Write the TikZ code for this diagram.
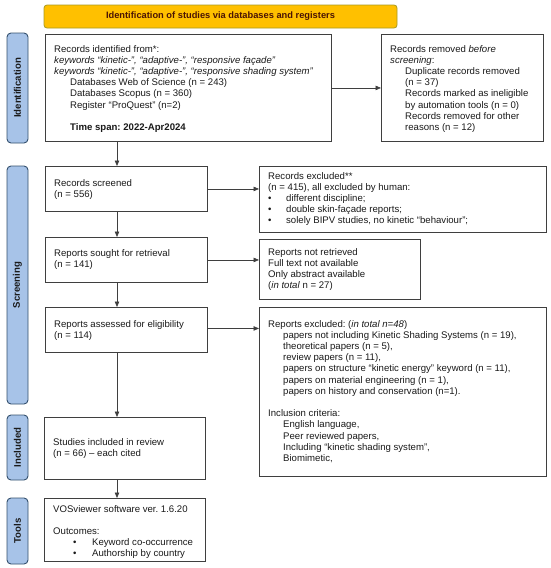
\documentclass[tikz,border=0pt]{standalone}
\usepackage{fontspec}
\setmainfont{Liberation Sans}
\usetikzlibrary{arrows.meta}
\definecolor{bordc}{HTML}{3F3F3F}
\definecolor{txtc}{HTML}{1A1A1A}
\definecolor{bannerfill}{HTML}{FFC000}
\definecolor{bannerdraw}{HTML}{A89A20}
\definecolor{bannertxt}{HTML}{4A1405}
\definecolor{sidefill}{HTML}{A7C3E8}
\definecolor{sidedraw}{HTML}{34506E}
\frenchspacing
\begin{document}
\begin{tikzpicture}[x=1pt,y=-1pt,
  box/.style={draw=bordc, line width=0.9pt, anchor=north west, inner sep=0pt},
  txt/.style={anchor=north west, inner sep=0pt, align=left, text=txtc,
    font=\fontsize{9.6}{11.2}\selectfont\frenchspacing},
  side/.style={draw=sidedraw, fill=sidefill, line width=0.9pt, rounded corners=4pt,
    rotate=90, minimum height=21pt, inner sep=0pt, text=txtc,
    font=\fontsize{9.6}{10}\selectfont\bfseries},
  arr/.style={draw=bordc, line width=0.7pt, -{Triangle[length=5.5pt,width=4.5pt]}}]
\useasboundingbox (0,0) rectangle (550,568);
\fill[white] (0,0) rectangle (550,568);

% banner
\node[draw=bannerdraw, fill=bannerfill, line width=0.8pt, rounded corners=3pt,
  minimum width=353pt, minimum height=23pt, inner sep=0pt, text=bannertxt,
  font=\fontsize{9.3}{10}\selectfont\bfseries] (ban) at (220.5,16.5)
  {Identification of studies via databases and registers};

% side labels
\node[side, minimum width=110pt] (s1) at (17.5,88) {Identification};
\node[side, minimum width=238pt] (s2) at (17.5,285) {Screening};
\node[side, minimum width=65pt] (s3) at (17.5,447.5) {Included};
\node[side, minimum width=66pt] (s4) at (17.5,531) {Tools};

% boxes
\node[box, minimum width=286pt, minimum height=107pt] (b1) at (45,34) {};
\node[box, minimum width=162pt, minimum height=107pt] (r1) at (381,34) {};
\node[box, minimum width=162pt, minimum height=45pt] (b2) at (45,166) {};
\node[box, minimum width=287pt, minimum height=66pt] (r2) at (259,166) {};
\node[box, minimum width=162pt, minimum height=45pt] (b3) at (45,237) {};
\node[box, minimum width=161pt, minimum height=60pt] (r3) at (259,239) {};
\node[box, minimum width=162pt, minimum height=45pt] (b4) at (45,307) {};
\node[box, minimum width=287pt, minimum height=169pt] (r4) at (259,307) {};
\node[box, minimum width=161pt, minimum height=62pt] (b5) at (44,417) {};
\node[box, minimum width=161pt, minimum height=63pt] (b6) at (44,498) {};

% texts
\node[txt] (t1) at (54,45) {Records identified from*:\\
\textit{keywords “kinetic-”, “adaptive-”, “responsive façade”}\\
\textit{keywords “kinetic-”, “adaptive-”, “responsive shading system”}\\
\hspace*{16pt}Databases Web of Science (n = 243)\\
\hspace*{16pt}Databases Scopus (n = 360)\\
\hspace*{16pt}Register “ProQuest” (n=2)\\[11.2pt]
\hspace*{16pt}\textbf{Time span: 2022-Apr2024}};

\node[txt] (tr1) at (390,45) {Records removed \textit{before}\\
\textit{screening}:\\
\hspace*{15pt}Duplicate records removed\\
\hspace*{15pt}(n = 37)\\
\hspace*{15pt}Records marked as ineligible\\
\hspace*{15pt}by automation tools (n = 0)\\
\hspace*{15pt}Records removed for other\\
\hspace*{15pt}reasons (n = 12)};

\node[txt] (t2) at (54,179) {Records screened\\(n = 556)};

\node[txt] (tr2) at (268,172) {Records excluded**\\
(n = 415), all excluded by human:\\
\makebox[18pt][l]{•}different discipline;\\
\makebox[18pt][l]{•}double skin-façade reports;\\
\makebox[18pt][l]{•}solely BIPV studies, no kinetic “behaviour”;};

\node[txt] (t3) at (54,249) {Reports sought for retrieval\\(n = 141)};

\node[txt] (tr3) at (268,248) {Reports not retrieved\\
Full text not available\\
Only abstract available\\
(\textit{in total} n = 27)};

\node[txt] (t4) at (54,320) {Reports assessed for eligibility\\(n = 114)};

\node[txt] (tr4) at (268,320) {Reports excluded: (\textit{in total n=48})\\
\hspace*{15pt}papers not including Kinetic Shading Systems (n = 19),\\
\hspace*{15pt}theoretical papers (n = 5),\\
\hspace*{15pt}review papers (n = 11),\\
\hspace*{15pt}papers on structure “kinetic energy” keyword (n = 11),\\
\hspace*{15pt}papers on material engineering (n = 1),\\
\hspace*{15pt}papers on history and conservation (n=1).\\[11.2pt]
Inclusion criteria:\\
\hspace*{15pt}English language,\\
\hspace*{15pt}Peer reviewed papers,\\
\hspace*{15pt}Including “kinetic shading system”,\\
\hspace*{15pt}Biomimetic,};

\node[txt] (t5) at (53,438) {Studies included in review\\(n = 66) – each cited};

\node[txt] (t6) at (53,505) {VOSviewer software ver. 1.6.20\\[11.2pt]
Outcomes:\\
\hspace*{20pt}\makebox[19pt][l]{•}Keyword co-occurrence\\
\hspace*{20pt}\makebox[19pt][l]{•}Authorship by country};

% connectors
\coordinate (ax) at (117,0);
\draw[arr] (b1.south -| ax) -- (b2.north -| ax);
\draw[arr] (b2.south -| ax) -- (b3.north -| ax);
\draw[arr] (b3.south -| ax) -- (b4.north -| ax);
\draw[arr] (b4.south -| ax) -- (b5.north -| ax);
\draw[arr] (b5.south -| ax) -- (b6.north -| ax);
\draw[arr] (b1.east) -- (r1.west);
\draw[arr] (b2.east) -- (b2.east -| r2.west);
\draw[arr] (b3.east) -- (b3.east -| r3.west);
\draw[arr] ([yshift=1.5pt]b4.east) -- ([yshift=1.5pt]b4.east -| r4.west);
\end{tikzpicture}
\end{document}
